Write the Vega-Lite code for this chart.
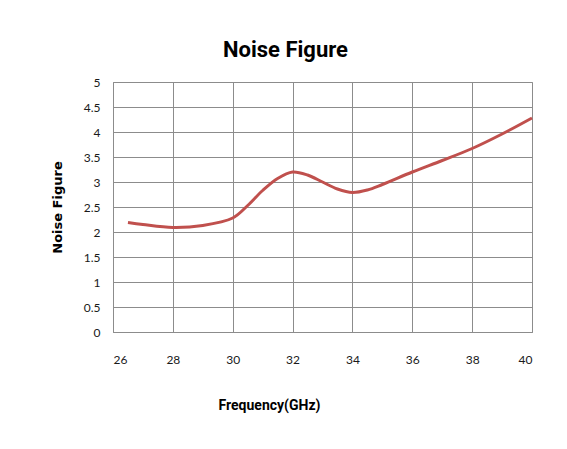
{
  "$schema": "https://vega.github.io/schema/vega-lite/v6.json",
  "width": 419,
  "height": 250,
  "autosize": {"type": "none"},
  "padding": {"left": 113, "top": 82, "right": 35, "bottom": 117},
  "background": "white",
  "title": {
    "text": "Noise Figure",
    "font": "Roboto",
    "fontSize": 22,
    "fontWeight": "bold",
    "color": "black",
    "anchor": "middle",
    "dx": -37,
    "offset": 14
  },
  "data": {
    "values": [
      {"freq": 26.5, "nf": 2.19},
      {"freq": 27, "nf": 2.15},
      {"freq": 28, "nf": 2.09},
      {"freq": 29, "nf": 2.13},
      {"freq": 30, "nf": 2.28},
      {"freq": 30.5, "nf": 2.53},
      {"freq": 31, "nf": 2.83},
      {"freq": 31.5, "nf": 3.07},
      {"freq": 32, "nf": 3.2},
      {"freq": 32.5, "nf": 3.14},
      {"freq": 33, "nf": 3.0},
      {"freq": 33.5, "nf": 2.86},
      {"freq": 34, "nf": 2.79},
      {"freq": 34.5, "nf": 2.84},
      {"freq": 35, "nf": 2.95},
      {"freq": 36, "nf": 3.2},
      {"freq": 37, "nf": 3.43},
      {"freq": 38, "nf": 3.67},
      {"freq": 39, "nf": 3.96},
      {"freq": 40, "nf": 4.28}
    ]
  },
  "mark": {"type": "line", "interpolate": "catmull-rom", "color": "#C0504D", "strokeWidth": 3},
  "encoding": {
    "x": {
      "field": "freq",
      "type": "quantitative",
      "scale": {"domain": [26, 40], "nice": false, "zero": false},
      "axis": {
        "title": "Frequency(GHz)",
        "values": [26, 28, 30, 32, 34, 36, 38, 40],
        "titleX": 156,
        "titleY": 77,
        "titleAlign": "center",
        "titleBaseline": "alphabetic",
        "titleFont": "Roboto",
        "titleFontSize": 14,
        "titleFontWeight": "bold",
        "labelPadding": 22
      }
    },
    "y": {
      "field": "nf",
      "type": "quantitative",
      "scale": {"domain": [0, 5], "nice": false},
      "axis": {
        "title": "Noise Figure",
        "values": [0, 0.5, 1, 1.5, 2, 2.5, 3, 3.5, 4, 4.5, 5],
        "format": "~g",
        "titleX": -56,
        "titleY": 125,
        "titleAngle": -90,
        "titleAlign": "center",
        "titleBaseline": "middle",
        "titleFont": "DejaVu Sans",
        "titleFontSize": 13,
        "titleFontWeight": "bold",
        "labelPadding": 13
      }
    }
  },
  "config": {
    "view": {"stroke": "#a6a6a6", "strokeWidth": 1},
    "axis": {
      "grid": true,
      "gridColor": "#8c8c8c",
      "gridWidth": 1,
      "gridOpacity": 1,
      "domain": true,
      "domainColor": "#8c8c8c",
      "domainWidth": 1,
      "ticks": false,
      "tickSize": 0,
      "labelFont": "Lato",
      "labelFontSize": 12,
      "labelColor": "#1a1a1a",
      "titleColor": "black"
    }
  }
}
